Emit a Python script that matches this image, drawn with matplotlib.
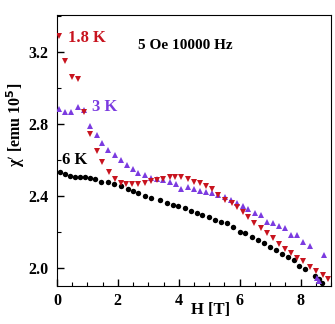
import matplotlib
matplotlib.use("Agg")
import matplotlib.pyplot as plt
from matplotlib.ticker import MultipleLocator

plt.rcParams['font.family'] = ['Liberation Serif', 'DejaVu Serif']
plt.rcParams['font.weight'] = 'bold'

# 6 K (black circles)
h6 = [0.09, 0.25, 0.42, 0.58, 0.75, 0.91, 1.08, 1.24, 1.46, 1.67, 1.89, 2.12, 2.32, 2.5,
      2.66, 2.88, 3.1, 3.38, 3.6, 3.8, 3.98, 4.2, 4.39, 4.59, 4.78, 5.0, 5.19, 5.38, 5.59,
      5.79, 6.01, 6.17, 6.39, 6.61, 6.8, 7.0, 7.19, 7.38, 7.6, 7.79, 7.96, 8.15, 8.48, 8.6, 8.7]
chi6 = [2.535, 2.521, 2.511, 2.507, 2.506, 2.504, 2.502, 2.494, 2.479, 2.476, 2.465, 2.456,
        2.437, 2.429, 2.418, 2.402, 2.387, 2.378, 2.363, 2.35, 2.344, 2.332, 2.318, 2.304,
        2.294, 2.282, 2.267, 2.257, 2.248, 2.229, 2.202, 2.193, 2.171, 2.156, 2.141, 2.118,
        2.1, 2.078, 2.063, 2.044, 2.011, 1.995, 1.956, 1.937, 1.918]

# 1.8 K (red down triangles)
h18 = [0.06, 0.28, 0.49, 0.69, 0.89, 1.08, 1.3, 1.48, 1.7, 1.9, 2.1, 2.28, 2.47, 2.66, 2.88,
       3.1, 3.29, 3.49, 3.71, 3.87, 4.09, 4.31, 4.5, 4.69, 4.89, 5.08, 5.3, 5.52, 5.74, 5.92,
       6.1, 6.28, 6.47, 6.69, 6.91, 7.11, 7.3, 7.49, 7.68, 7.9, 8.09, 8.31, 8.51, 8.73, 8.91]
chi18 = [3.289, 3.15, 3.063, 3.05, 2.868, 2.744, 2.652, 2.587, 2.532, 2.493, 2.474, 2.465,
         2.465, 2.465, 2.47, 2.482, 2.49, 2.497, 2.504, 2.507, 2.507, 2.495, 2.479, 2.47,
         2.456, 2.437, 2.406, 2.378, 2.359, 2.337, 2.31, 2.282, 2.252, 2.22, 2.193, 2.165,
         2.133, 2.104, 2.085, 2.054, 2.037, 2.007, 1.985, 1.961, 1.937]

# 3 K (purple up triangles)
h3 = [0.06, 0.28, 0.47, 0.69, 0.89, 1.1, 1.3, 1.49, 1.69, 1.9, 2.1, 2.29, 2.5, 2.66, 2.88,
      3.1, 3.29, 3.49, 3.71, 3.9, 4.09, 4.31, 4.5, 4.69, 4.89, 5.08, 5.3, 5.52, 5.7, 5.9,
      6.1, 6.28, 6.5, 6.69, 6.91, 7.11, 7.3, 7.49, 7.68, 7.87, 8.09, 8.31, 8.55, 8.6, 8.78]
chi3 = [2.883, 2.868, 2.868, 2.893, 2.878, 2.79, 2.741, 2.693, 2.657, 2.625, 2.597, 2.57,
        2.548, 2.529, 2.517, 2.498, 2.494, 2.49, 2.479, 2.465, 2.437, 2.448, 2.437, 2.429,
        2.424, 2.415, 2.406, 2.393, 2.378, 2.363, 2.345, 2.327, 2.307, 2.294, 2.257, 2.252,
        2.235, 2.22, 2.181, 2.181, 2.146, 2.12, 1.945, 1.93, 2.072]

red = '#c8141f'
purple = '#7b3be0'

fig = plt.figure(figsize=(3.35, 3.24), dpi=100)
ax = fig.add_axes([0.170, 0.117, 0.818, 0.837])

ax.plot(h6, chi6, 'o', color='black', ms=3.9, mew=0, zorder=2)
ax.plot(h3, chi3, '^', color=purple, ms=4.8, mew=0, zorder=3)
ax.plot(h18, chi18, 'v', color=red, ms=4.8, mew=0, zorder=4)

ax.set_xlim(0, 9)
ax.set_ylim(1.9, 3.405)
ax.xaxis.set_major_locator(MultipleLocator(2))
ax.xaxis.set_minor_locator(MultipleLocator(0.5))
ax.yaxis.set_minor_locator(MultipleLocator(0.2))
ax.set_yticks([2.0, 2.4, 2.8, 3.2])
ax.set_yticklabels(['2.0', '2.4', '2.8', '3.2'])
ax.tick_params(which='both', direction='in', top=False, right=False, labelsize=11.5)
ax.tick_params(which='major', length=5, width=1, pad=5)
ax.tick_params(which='minor', length=3, width=0.8)
ax.tick_params(axis='y', pad=6)

ax.set_xlabel('H [T]', fontsize=12, fontweight='bold')
ax.xaxis.set_label_coords(0.56, -0.06)
ax.set_ylabel(r"χ$'$ [emu 10$^{\mathbf{5}}$]", fontsize=11.5, fontweight='bold')
ax.yaxis.set_label_coords(-0.11, 0.595)

ax.text(0.36, 3.275, '1.8 K', color=red, fontsize=12, fontweight='bold', va='center')
ax.text(1.15, 2.895, '3 K', color=purple, fontsize=12, fontweight='bold', va='center')
ax.text(0.18, 2.6, '6 K', color='black', fontsize=12, fontweight='bold', va='center')
ax.text(4.2, 3.235, '5 Oe 10000 Hz', color='black', fontsize=11, fontweight='bold',
        va='center', ha='center')

fig.savefig('out.png', dpi=100)
